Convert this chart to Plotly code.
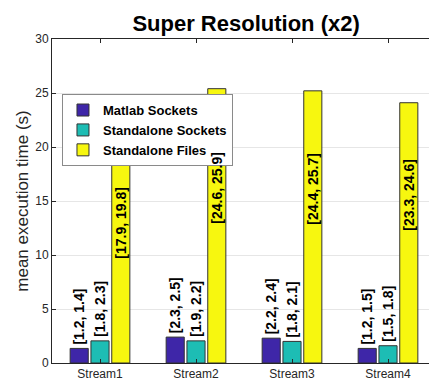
import plotly.graph_objects as go

categories = ["Stream1", "Stream2", "Stream3", "Stream4"]
series_names = ["Matlab Sockets", "Standalone Sockets", "Standalone Files"]
matlab_sockets = [1.35, 2.4, 2.3, 1.35]
standalone_sockets = [2.05, 2.05, 2.0, 1.6]
standalone_files = [18.9, 25.4, 25.2, 24.1]
matlab_ci = ["[1.2, 1.4]", "[2.3, 2.5]", "[2.2, 2.4]", "[1.2, 1.5]"]
sockets_ci = ["[1.8, 2.3]", "[1.9, 2.2]", "[1.8, 2.1]", "[1.5, 1.8]"]
files_ci = ["[17.9, 19.8]", "[24.6, 25.9]", "[24.4, 25.7]", "[23.3, 24.6]"]
y_ticks = [0, 5, 10, 15, 20, 25, 30]

colors = ["#3E26A8", "#1DBDB4", "#F7F70F"]
font_family = "Liberation Sans, Arial, sans-serif"

fig = go.Figure()
all_series = [matlab_sockets, standalone_sockets, standalone_files]
for name, vals, col in zip(series_names, all_series, colors):
    fig.add_trace(go.Bar(x=categories, y=vals, name="<b>" + name + "</b>",
                         marker=dict(color=col, line=dict(color="#333333", width=1)),
                         cliponaxis=False))

bargap = 0.35
groupgap = 0.13
slot = (1 - bargap) / 3
lab_font = dict(size=14, color="black", family=font_family)

# labels above the two small bars
for offset, vals, labels in [(-slot, matlab_sockets, matlab_ci),
                             (0.0, standalone_sockets, sockets_ci)]:
    for i, (v, t) in enumerate(zip(vals, labels)):
        fig.add_annotation(x=i + offset, y=v, xref="x", yref="y", text="<b>" + t + "</b>",
                           textangle=-90, showarrow=False, xanchor="center",
                           yanchor="bottom", yshift=2, font=lab_font)

# labels inside the yellow bars, starting at mid-height
for i, (v, t) in enumerate(zip(standalone_files, files_ci)):
    fig.add_annotation(x=i + slot, y=v / 2, xref="x", yref="y", text="<b>" + t + "</b>",
                       textangle=-90, showarrow=False, xanchor="center",
                       yanchor="bottom", font=lab_font)

# the page body adds an 8px offset, so the figure is drawn 8px smaller
fig.update_layout(
    width=429, height=376,
    margin=dict(l=44, r=1, t=31, b=21, autoexpand=False),
    paper_bgcolor="white", plot_bgcolor="white",
    barmode="group", bargap=bargap, bargroupgap=groupgap,
    title=dict(text="<b>Super Resolution (x2)</b>", x=0.555, xanchor="center",
               y=0.96, yanchor="middle",
               font=dict(size=22, color="black", family=font_family)),
    legend=dict(x=0.026, y=0.83, xanchor="left", yanchor="top",
                bgcolor="white", bordercolor="#8a8a8a", borderwidth=1,
                font=dict(size=13, color="black", family=font_family),
                itemwidth=30, tracegroupgap=0),
    showlegend=True,
)

fig.update_xaxes(type="category", showline=True, linecolor="#262626", linewidth=1,
                 mirror="ticks", ticks="inside", ticklen=4, tickcolor="#262626",
                 tickfont=dict(size=12, color="#262626", family=font_family),
                 showgrid=False, automargin=False)
fig.update_yaxes(range=[0, 30], tickvals=y_ticks, showline=True, linecolor="#262626",
                 linewidth=1, mirror="ticks", ticks="inside", ticklen=4,
                 tickcolor="#262626", gridcolor="#e6e6e6", gridwidth=1,
                 tickfont=dict(size=12, color="#262626", family=font_family),
                 title=dict(text="mean execution time (s)", standoff=2,
                            font=dict(size=17, color="#262626", family=font_family)),
                 zeroline=False, automargin=False)

fig.write_html("out.html")
